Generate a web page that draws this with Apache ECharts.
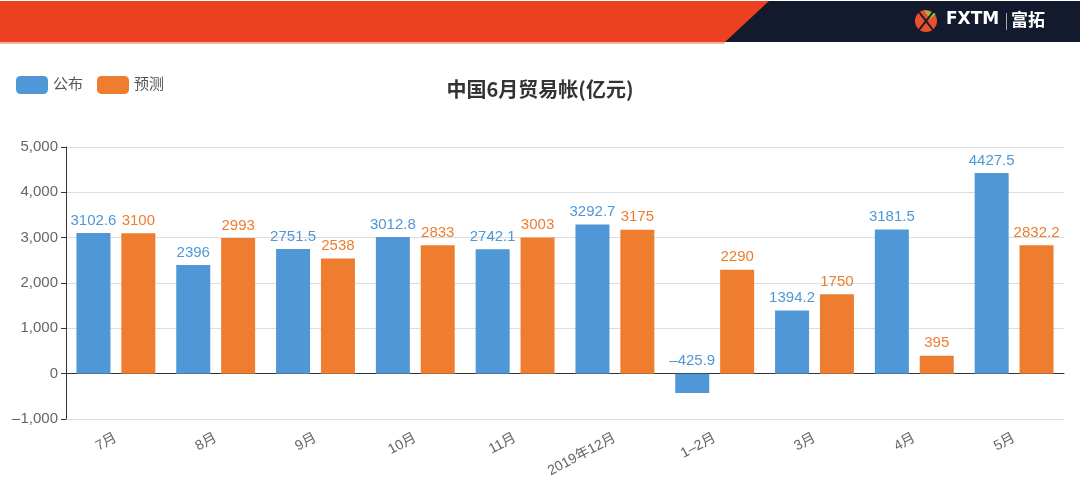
<!DOCTYPE html>
<html><head><meta charset="utf-8">
<script src="https://cdn.jsdelivr.net/npm/echarts@6/dist/echarts.min.js"></script>
<style>html,body{margin:0;padding:0;background:#fff}#c{width:1080px;height:494px}</style>
</head><body><div id="c"></div>
<script>
const categories = ['7月','8月','9月','10月','11月','2019年12月','1–2月','3月','4月','5月'];
const published = [3102.6, 2396, 2751.5, 3012.8, 2742.1, 3292.7, -425.9, 1394.2, 3181.5, 4427.5];
const forecast = [3100, 2993, 2538, 2833, 3003, 3175, 2290, 1750, 395, 2832.2];
const seriesNames = ['公布','预测'];
const titleText = '中国6月贸易帐(亿元)';

const chart = echarts.init(document.getElementById('c'));
const font = '"Liberation Sans", "Noto Sans CJK SC", sans-serif';
chart.setOption({
  animation:false,
  textStyle:{fontFamily:font},
  title:{text:titleText,left:'center',top:74,textStyle:{fontSize:20,fontWeight:'bold',color:'#333',fontFamily:'"Noto Sans CJK SC", sans-serif'}},
  legend:{left:11,top:71,itemWidth:32,itemHeight:18,itemGap:14,textStyle:{fontSize:15,color:'#555',fontFamily:font},
    data:seriesNames},
  grid:{left:66,right:16,top:147,bottom:75,containLabel:false},
  xAxis:{type:'category',data:categories,
    axisLine:{lineStyle:{color:'#333'}},axisTick:{lineStyle:{color:'#333'},length:5},
    axisLabel:{rotate:28,color:'#666',fontSize:14,margin:18}},
  yAxis:{type:'value',min:-1000,max:5000,interval:1000,
    axisLine:{show:true,lineStyle:{color:'#333'}},axisTick:{show:true,lineStyle:{color:'#333'},length:5},
    axisLabel:{color:'#666',fontSize:15,formatter:v=>v.toLocaleString('en-US').replace('-','–')},
    splitLine:{lineStyle:{color:'#ddd'}}},
  series:[
    {name:seriesNames[0],type:'bar',data:published,barWidth:34,barGap:'32%',
     itemStyle:{color:'#4f97d6'},
     label:{show:true,position:'top',color:'#4f97d6',fontSize:15,distance:5,formatter:p=>String(p.value).replace('-','–')}},
    {name:seriesNames[1],type:'bar',data:forecast,barWidth:34,
     itemStyle:{color:'#ee7d30'},
     label:{show:true,position:'top',color:'#ee7d30',fontSize:15,distance:5}}
  ],
  graphic:[
    {type:'rect',shape:{x:0,y:1,width:1080,height:41},style:{fill:'#141a2e'},z:-1},
    {type:'polygon',shape:{points:[[0,1],[769,1],[725,42],[0,42]]},style:{fill:'#ec4020'}},
    {type:'rect',shape:{x:0,y:42,width:725,height:2},style:{fill:'#f7b3a2'}},
    {type:'circle',shape:{cx:926,cy:21,r:11},style:{fill:'#e8502c'}},
    {type:'polygon',shape:{points:[[924,10],[936,14],[930,19]]},style:{fill:'#8cc540'}},
    {type:'line',shape:{x1:919,y1:12,x2:933,y2:30},style:{stroke:'#141a2e',lineWidth:2}},
    {type:'line',shape:{x1:933,y1:12,x2:919,y2:30},style:{stroke:'#141a2e',lineWidth:2}},
    {type:'text',left:946,top:11,style:{text:'FXTM',fill:'#fff',font:'bold 17px "DejaVu Sans", sans-serif'}},
    {type:'rect',shape:{x:1006,y:13,width:1,height:17},style:{fill:'#aaa'}},
    {type:'text',left:1011,top:11,style:{text:'富拓',fill:'#fff',font:'bold 17px "Noto Sans CJK SC", sans-serif'}}
  ]
});
</script></body></html>
